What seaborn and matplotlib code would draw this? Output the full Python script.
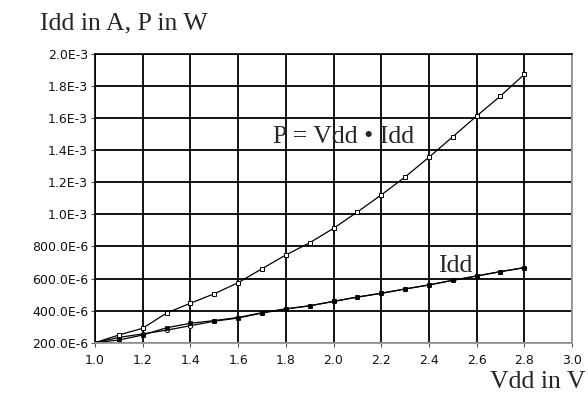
import matplotlib
matplotlib.use("Agg")
import matplotlib.pyplot as plt
import pandas as pd
import seaborn as sns
from matplotlib.ticker import FuncFormatter, MultipleLocator

# Data (currents/powers in micro units)
vdd = [1.0, 1.1, 1.2, 1.3, 1.4, 1.5, 1.6, 1.7, 1.8, 1.9,
       2.0, 2.1, 2.2, 2.3, 2.4, 2.5, 2.6, 2.7, 2.8]
idd_meas_u = [200, 217, 248, 293, 321, 338, 357, 387, 411, 430,
              458, 485, 508, 535, 560, 589, 616, 643, 668]
idd_sim_u = [200, 233, 255, 278, 306, 334, 354, 385, 410, 430,
             457, 484, 508, 535, 560, 589, 616, 643, 668]
power_u = [200, 248, 290, 385, 446, 505, 574, 661, 747, 823,
           913, 1015, 1121, 1233, 1356, 1484, 1613, 1738, 1873]

df = pd.DataFrame({
    'vdd': vdd,
    'idd_meas': [v * 1e-6 for v in idd_meas_u],
    'idd_sim': [v * 1e-6 for v in idd_sim_u],
    'power': [v * 1e-6 for v in power_u],
})

sns.set_style('white')
plt.rcParams['font.family'] = ['DejaVu Sans']

fig = plt.figure(figsize=(5.88, 3.94), dpi=100)
ax = fig.add_axes([95 / 588, 1 - 342.7 / 394, 477 / 588, 288.7 / 394])

# Grid
ax.grid(True, color='black', linewidth=1.3)
ax.set_axisbelow(True)

# Lines
sns.lineplot(data=df, x='vdd', y='idd_sim', ax=ax, color='black', linewidth=0.9,
             marker='o', markersize=3, markerfacecolor='white',
             markeredgecolor='black', markeredgewidth=0.7)
sns.lineplot(data=df, x='vdd', y='idd_meas', ax=ax, color='black', linewidth=0.9,
             marker='s', markersize=3, markerfacecolor='black',
             markeredgecolor='black', markeredgewidth=0.5)
sns.lineplot(data=df, x='vdd', y='power', ax=ax, color='black', linewidth=0.9,
             marker='s', markersize=3, markerfacecolor='white',
             markeredgecolor='black', markeredgewidth=0.7)

ax.set_xlim(1.0, 3.0)
ax.set_ylim(200e-6, 2.0e-3)
ax.xaxis.set_major_locator(MultipleLocator(0.2))
ax.yaxis.set_major_locator(MultipleLocator(200e-6))


def fmt_y(v, pos):
    if v >= 0.99e-3:
        return f'{v * 1e3:.1f}E-3'
    return f'{v * 1e6:.1f}E-6'


ax.yaxis.set_major_formatter(FuncFormatter(fmt_y))
ax.xaxis.set_major_formatter(FuncFormatter(lambda v, p: f'{v:.1f}'))
ax.set_xlabel('')
ax.set_ylabel('')

ax.tick_params(axis='both', which='major', direction='out', length=3, width=0.8,
               color='#555555', labelsize=9, labelcolor='#111111')
ax.tick_params(axis='x', pad=5)
ax.tick_params(axis='y', pad=2)
ax.xaxis.set_ticks_position('bottom')
ax.yaxis.set_ticks_position('left')

for side in ['bottom', 'right']:
    ax.spines[side].set_color('#999999')
    ax.spines[side].set_linewidth(1.3)
for side in ['left', 'top']:
    ax.spines[side].set_color('black')
    ax.spines[side].set_linewidth(1.2)

# Annotations
ax.text(1.745, 1447e-6, 'P = Vdd \u2022 Idd', family='Liberation Serif',
        fontsize=18.5, va='baseline', ha='left')
ax.text(2.438, 639e-6, 'Idd', family='Liberation Serif',
        fontsize=18.5, va='baseline', ha='left')

fig.text(40 / 588, 1 - 29 / 394, 'Idd in A, P in W', family='Liberation Serif',
         fontsize=18.5, va='baseline', ha='left')
fig.text(586 / 588, 1 - 388 / 394, 'Vdd in V', family='Liberation Serif',
         fontsize=18.5, va='baseline', ha='right')

fig.savefig('out.png', dpi=100)
